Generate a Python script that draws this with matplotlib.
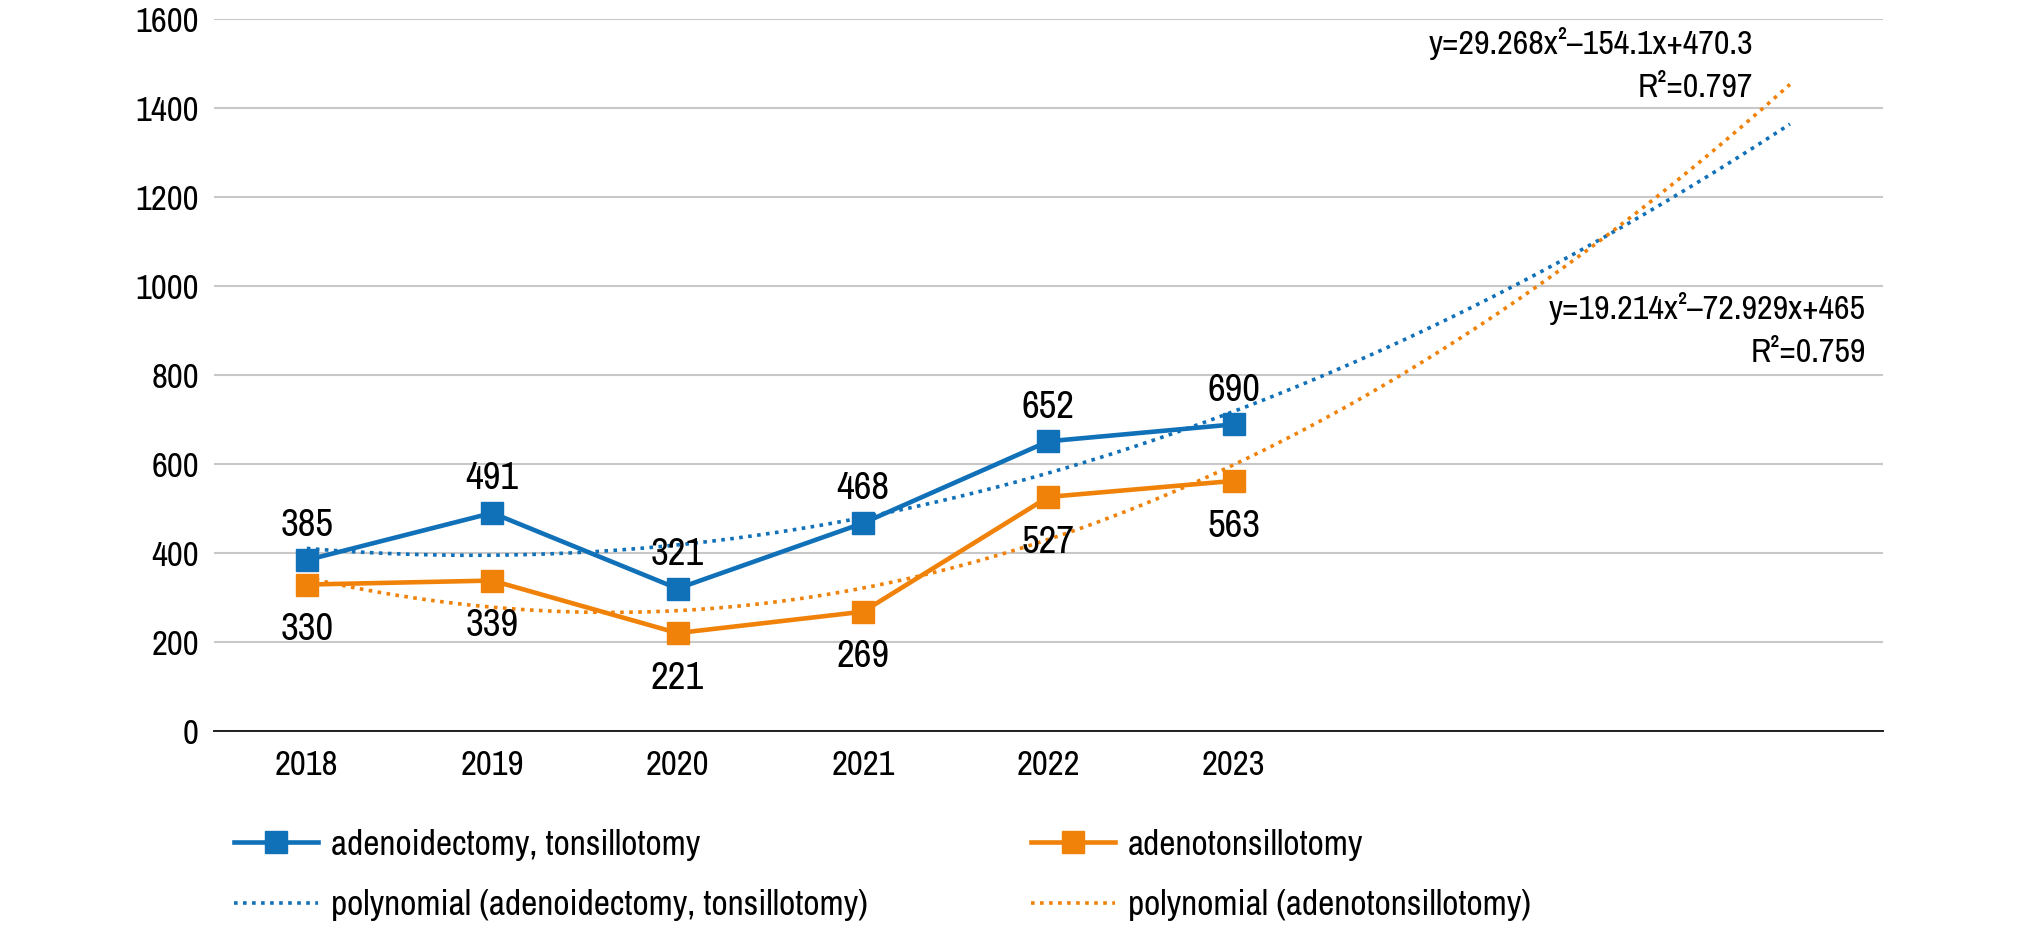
import numpy as np
import matplotlib
matplotlib.use("Agg")
import matplotlib.pyplot as plt
from matplotlib import font_manager

# --- data ---
years = ["2018", "2019", "2020", "2021", "2022", "2023"]
adeno_tonsillotomy = [385, 491, 321, 468, 652, 690]
adenotonsillotomy = [330, 339, 221, 269, 527, 563]

# trendline coefficients as printed on the chart (x = 1..n)
coef_blue = [19.214, -72.929, 465]
coef_orange = [29.268, -154.1, 470.3]
r2_blue = 0.759
r2_orange = 0.797
forecast = 3  # periods forward

blue = "#1070b8"
orange = "#f0820a"

# the original uses a condensed face, pick one if installed
fonts = font_manager.fontManager.ttflist
narrow = [f for f in fonts if ("Condensed" in f.name or "Narrow" in f.name)]
found = ""
for f in fonts:
    if f.name == "DejaVu Sans" and "Condensed" in f.fname and "Bold" not in f.fname and "Oblique" not in f.fname:
        found = f.fname
if narrow:
    plt.rcParams["font.family"] = [narrow[0].name, "DejaVu Sans"]
    fp = None
elif found:
    fp = font_manager.FontProperties(fname=found)
else:
    fp = None


def fprops(size):
    if fp is None:
        return {"fontsize": size}
    p = fp.copy()
    p.set_size(size)
    return {"fontproperties": p}


fig = plt.figure(figsize=(20.2, 9.27), dpi=100)
ax = fig.add_axes([0.106, 0.211, 0.826, 0.768])

x = np.arange(1, len(years) + 1)
xt = np.linspace(1, len(years) + forecast, 200)

ax.plot(xt, np.polyval(coef_blue, xt), ls=(0, (1, 1.5)), color=blue, lw=2.6,
        label="polynomial (adenoidectomy, tonsillotomy)", zorder=2)
ax.plot(xt, np.polyval(coef_orange, xt), ls=(0, (1, 1.5)), color=orange, lw=2.6,
        label="polynomial (adenotonsillotomy)", zorder=2)
ax.plot(x, adeno_tonsillotomy, color=blue, lw=3.3, marker="s", ms=16,
        label="adenoidectomy, tonsillotomy", zorder=3)
ax.plot(x, adenotonsillotomy, color=orange, lw=3.3, marker="s", ms=16,
        label="adenotonsillotomy", zorder=3)

for xi, v in zip(x, adeno_tonsillotomy):
    ax.annotate(str(v), (xi, v), xytext=(0, 12), textcoords="offset points",
                ha="center", va="bottom", **fprops(28))
for xi, v in zip(x, adenotonsillotomy):
    ax.annotate(str(v), (xi, v), xytext=(0, -20), textcoords="offset points",
                ha="center", va="top", **fprops(28))

ax.text(8.8, 1546, "y=29.268x\u00b2\u2013154.1x+470.3", ha="right", va="center", **fprops(24.5))
ax.text(8.8, 1445, f"R\u00b2={r2_orange}", ha="right", va="center", **fprops(24.5))
ax.text(9.41, 951, "y=19.214x\u00b2\u201372.929x+465", ha="right", va="center", **fprops(24.5))
ax.text(9.41, 850, f"R\u00b2={r2_blue}", ha="right", va="center", **fprops(24.5))

ax.set_xlim(0.5, len(years) + forecast + 0.5)
ax.set_ylim(0, 1600)
ax.set_yticks(range(0, 1601, 200))
ax.set_xticks(x)
ax.set_xticklabels(years)
ax.tick_params(axis="both", length=0, labelsize=25)
ax.tick_params(axis="x", pad=13)
ax.tick_params(axis="y", pad=11)
if fp is not None:
    for t in ax.get_xticklabels() + ax.get_yticklabels():
        t.set_fontproperties(fprops(25)["fontproperties"])
ax.grid(axis="y", color="#c8c8c8", lw=1.5)
ax.set_axisbelow(True)
for s in ax.spines.values():
    s.set_visible(False)
ax.spines["bottom"].set_visible(True)
ax.spines["bottom"].set_color("#202020")
ax.spines["bottom"].set_linewidth(1.4)

handles, labels = ax.get_legend_handles_labels()
order = [2, 0, 3, 1]
leg_kw = {"prop": fprops(25.5)["fontproperties"]} if fp is not None else {"fontsize": 25.5}
fig.legend([handles[i] for i in order], [labels[i] for i in order],
           loc="lower left", bbox_to_anchor=(0.100, -0.028), ncol=2, frameon=False,
           handlelength=2.37, handletextpad=0.37, columnspacing=4.6, labelspacing=0.8, **leg_kw)

fig.savefig("out.png", dpi=100)
